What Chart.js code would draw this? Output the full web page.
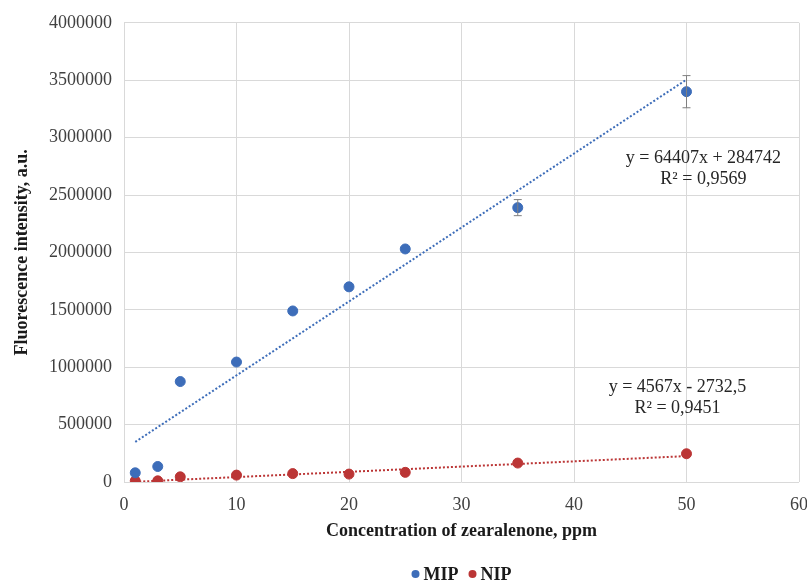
<!DOCTYPE html>
<html>
<head>
<meta charset="utf-8">
<script src="https://cdn.jsdelivr.net/npm/chart.js@4.4.1/dist/chart.umd.min.js"></script>
<style>
  html, body { margin: 0; padding: 0; background: #fff; }
  #wrap { width: 807px; height: 585px; }
</style>
</head>
<body>
<div id="wrap"><canvas id="chart" width="807" height="585"></canvas></div>
<script>
// concentrations (ppm)
const concentrations = [1, 3, 5, 10, 15, 20, 25, 35, 50];
// fluorescence readings
const mipValues = [80000, 135000, 875000, 1045000, 1490000, 1700000, 2030000, 2390000, 3400000];
const mipErrors = [0, 0, 0, 0, 0, 0, 0, 70000, 140000];
const nipValues = [10000, 10000, 45000, 60000, 73000, 69000, 84000, 165000, 246000];

// trendline coefficients as printed on the chart
const mipFit = { slope: 64407, intercept: 284742, label: ['y = 64407x + 284742', 'R² = 0,9569'] };
const nipFit = { slope: 4567, intercept: -2732.5, label: ['y = 4567x - 2732,5', 'R² = 0,9451'] };
const fitRange = [1, 50];

const xTicks = [0, 10, 20, 30, 40, 50, 60];
const yTicks = [0, 500000, 1000000, 1500000, 2000000, 2500000, 3000000, 3500000, 4000000];

const BLUE = '#3d6db9';
const RED = '#bb3535';
const SERIF = '"Liberation Serif", "Times New Roman", serif';

const pts = (xs, ys) => xs.map((x, i) => ({ x, y: ys[i] }));
const fitLine = f => fitRange.map(x => ({ x, y: f.slope * x + f.intercept }));

const errorBars = {
  id: 'errorBars',
  afterDatasetsDraw(chart) {
    const meta = chart.getDatasetMeta(0);
    const y = chart.scales.y;
    const ctx = chart.ctx;
    ctx.save();
    ctx.strokeStyle = '#808080';
    ctx.lineWidth = 1;
    meta.data.forEach((pt, i) => {
      const e = mipErrors[i];
      if (!e) return;
      const top = y.getPixelForValue(mipValues[i] + e);
      const bot = y.getPixelForValue(mipValues[i] - e);
      ctx.beginPath();
      ctx.moveTo(pt.x, top); ctx.lineTo(pt.x, bot);
      ctx.moveTo(pt.x - 4, top); ctx.lineTo(pt.x + 4, top);
      ctx.moveTo(pt.x - 4, bot); ctx.lineTo(pt.x + 4, bot);
      ctx.stroke();
    });
    ctx.restore();
  }
};

// equation labels placed in data space near the end of each trendline
const fitLabels = {
  id: 'fitLabels',
  afterDraw(chart) {
    const { x, y } = chart.scales;
    const ctx = chart.ctx;
    ctx.save();
    ctx.fillStyle = '#262626';
    ctx.font = '18px ' + SERIF;
    ctx.textAlign = 'center';
    ctx.textBaseline = 'middle';
    const place = (f, cx, cy) => {
      const px = x.getPixelForValue(cx), py = y.getPixelForValue(cy);
      ctx.fillText(f.label[0], px, py);
      ctx.fillText(f.label[1], px, py + 21);
    };
    place(mipFit, 51.5, 2820000);
    place(nipFit, 49.2, 824000);
    ctx.restore();
  }
};

// legend centred under the plot area (like the spreadsheet original)
const bottomLegend = {
  id: 'bottomLegend',
  afterDraw(chart) {
    const ctx = chart.ctx;
    const items = chart.data.datasets.slice(0, 2);
    ctx.save();
    ctx.font = 'bold 18px ' + SERIF;
    ctx.textBaseline = 'middle';
    const r = 4, gap = 4, sep = 10;
    const widths = items.map(d => r * 2 + gap + ctx.measureText(d.label).width);
    const total = widths.reduce((a, b) => a + b, 0) + sep * (items.length - 1);
    const ca = chart.chartArea;
    let cx = (ca.left + ca.right) / 2 - total / 2;
    const cy = 574;
    items.forEach((d, i) => {
      ctx.fillStyle = d.backgroundColor;
      ctx.beginPath();
      ctx.arc(cx + r, cy, r, 0, Math.PI * 2);
      ctx.fill();
      ctx.fillStyle = '#1a1a1a';
      ctx.fillText(d.label, cx + r * 2 + gap, cy + 1);
      cx += widths[i] + sep;
    });
    ctx.restore();
  }
};

new Chart(document.getElementById('chart'), {
  type: 'scatter',
  data: {
    datasets: [
      { label: 'MIP', data: pts(concentrations, mipValues), backgroundColor: BLUE, borderColor: BLUE,
        pointRadius: 5, pointHoverRadius: 5, order: 1 },
      { label: 'NIP', data: pts(concentrations, nipValues), backgroundColor: RED, borderColor: RED,
        pointRadius: 5, pointHoverRadius: 5, order: 1 },
      { label: 'MIP fit', data: fitLine(mipFit), showLine: true, pointRadius: 0, borderColor: BLUE,
        borderWidth: 2, borderDash: [2, 2], fill: false, order: 2 },
      { label: 'NIP fit', data: fitLine(nipFit), showLine: true, pointRadius: 0, borderColor: RED,
        borderWidth: 2, borderDash: [2, 2], fill: false, order: 2 }
    ]
  },
  options: {
    responsive: false,
    animation: false,
    layout: { padding: { left: 8, right: 0, top: 14, bottom: 31 } },
    plugins: {
      tooltip: { enabled: false },
      legend: { display: false }
    },
    scales: {
      x: {
        type: 'linear', min: 0, max: 60,
        afterBuildTicks: s => { s.ticks = xTicks.map(v => ({ value: v })); },
        grid: { color: '#d9d9d9', drawTicks: false },
        border: { display: false },
        ticks: { color: '#404040', padding: 12, font: { family: SERIF, size: 18 }, callback: v => String(v) },
        title: { display: true, text: 'Concentration of zearalenone, ppm', color: '#1a1a1a',
          font: { family: SERIF, size: 18, weight: 'bold' }, padding: { top: 4, bottom: 12 } },
        afterFit: s => { s.height = 72; s.paddingRight = 8; s.paddingLeft = 0; }
      },
      y: {
        type: 'linear', min: 0, max: 4000000,
        afterBuildTicks: s => { s.ticks = yTicks.map(v => ({ value: v })); },
        grid: { color: '#d9d9d9', drawTicks: false },
        border: { display: false },
        ticks: { color: '#404040', padding: 12, font: { family: SERIF, size: 18 }, callback: v => String(v) },
        title: { display: true, text: 'Fluorescence intensity, a.u.', color: '#1a1a1a',
          font: { family: SERIF, size: 18, weight: 'bold' } },
        afterFit: s => { s.width = 116; }
      }
    }
  },
  plugins: [errorBars, fitLabels, bottomLegend]
});
</script>
</body>
</html>
